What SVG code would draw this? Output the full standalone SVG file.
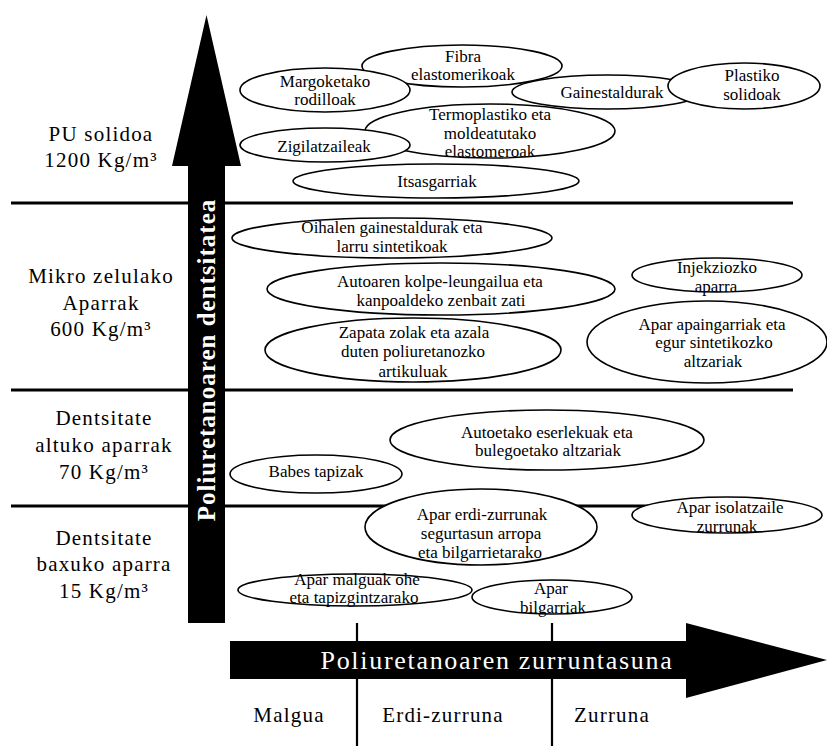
<svg xmlns="http://www.w3.org/2000/svg" width="827" height="749" viewBox="0 0 827 749">
<style>
  text { font-family: "Liberation Serif", "Times New Roman", serif; fill: #000; text-anchor: middle; }
  .node ellipse { fill: #fff; stroke: #000; stroke-width: 1.6; }
  .node text { font-size: 17px; }
  .band text, .axlab text { font-size: 21px; letter-spacing: 1.2px; }
  .rule { stroke: #000; stroke-width: 3; }
  .div { stroke: #000; stroke-width: 2.2; }
  .arrow { fill: #000; }
  .wt { fill: #fff; }
</style>
<rect width="827" height="749" fill="#fff"/>
<g id="axes">
  <line class="rule" x1="11" y1="203" x2="793" y2="203"/>
  <line class="rule" x1="11" y1="390" x2="793" y2="390"/>
  <line class="rule" x1="11" y1="506" x2="793" y2="506"/>
  <line class="div" x1="357" y1="623" x2="357" y2="746"/>
  <line class="div" x1="552" y1="623" x2="552" y2="746"/>
  <polygon class="arrow" points="188,623 188,166 172,166 206.5,15 241,166 225,166 225,623"/>
  <polygon class="arrow" points="230,641 686,641 686,623 827,660 686,698 686,679 230,679"/>
  <text class="wt" transform="translate(215,360) rotate(-90)" font-size="25" font-weight="bold" letter-spacing="1">Poliuretanoaren dentsitatea</text>
  <text class="wt" x="497" y="669" font-size="26" letter-spacing="1.7">Poliuretanoaren zurruntasuna</text>
</g>
<g class="band" id="density-labels">
  <text x="101" y="141">PU solidoa</text>
  <text x="101" y="167">1200 Kg/m³</text>
  <text x="101" y="283">Mikro zelulako</text>
  <text x="101" y="310">Aparrak</text>
  <text x="101" y="336">600 Kg/m³</text>
  <text x="104" y="425">Dentsitate</text>
  <text x="104" y="452">altuko aparrak</text>
  <text x="104" y="479">70 Kg/m³</text>
  <text x="104" y="545">Dentsitate</text>
  <text x="104" y="571">baxuko aparra</text>
  <text x="104" y="598">15 Kg/m³</text>
</g>
<g class="axlab" id="rigidity-labels">
  <text x="289" y="722">Malgua</text>
  <text x="443" y="722">Erdi-zurruna</text>
  <text x="612" y="722">Zurruna</text>
</g>
<g class="node" id="n-fibra">
  <ellipse cx="462" cy="66" rx="100" ry="21"/>
  <text x="463" y="62">Fibra</text>
  <text x="463" y="80">elastomerikoak</text>
</g>
<g class="node" id="n-margoketako">
  <ellipse cx="325" cy="90" rx="85" ry="22"/>
  <text x="325" y="87">Margoketako</text>
  <text x="325" y="105">rodilloak</text>
</g>
<g class="node" id="n-gainestaldurak">
  <ellipse cx="607" cy="92" rx="95" ry="17"/>
  <text x="612" y="98">Gainestaldurak</text>
</g>
<g class="node" id="n-plastiko">
  <ellipse cx="744" cy="86" rx="76" ry="23"/>
  <text x="752" y="81">Plastiko</text>
  <text x="752" y="100">solidoak</text>
</g>
<g class="node" id="n-termoplastiko">
  <ellipse cx="490" cy="131" rx="125" ry="27"/>
  <text x="490" y="120">Termoplastiko eta</text>
  <text x="490" y="139">moldeatutako</text>
  <text x="490" y="157">elastomeroak</text>
</g>
<g class="node" id="n-zigilatzaileak">
  <ellipse cx="325" cy="145" rx="85" ry="17"/>
  <text x="324" y="152">Zigilatzaileak</text>
</g>
<g class="node" id="n-itsasgarriak">
  <ellipse cx="436" cy="181" rx="143" ry="17"/>
  <text x="437" y="187">Itsasgarriak</text>
</g>
<g class="node" id="n-oihalen">
  <ellipse cx="392" cy="238" rx="160" ry="20"/>
  <text x="392" y="233">Oihalen gainestaldurak eta</text>
  <text x="392" y="252">larru sintetikoak</text>
</g>
<g class="node" id="n-autoaren">
  <ellipse cx="441" cy="289" rx="174" ry="26"/>
  <text x="440" y="287">Autoaren kolpe-leungailua eta</text>
  <text x="441" y="306">kanpoaldeko zenbait zati</text>
</g>
<g class="node" id="n-zapata">
  <ellipse cx="413" cy="350" rx="148" ry="32"/>
  <text x="414" y="338">Zapata zolak eta azala</text>
  <text x="413" y="357">duten poliuretanozko</text>
  <text x="413" y="377">artikuluak</text>
</g>
<g class="node" id="n-injekziozko">
  <ellipse cx="717" cy="275" rx="85" ry="17"/>
  <text x="717" y="273">Injekziozko</text>
  <text x="716" y="292">aparra</text>
</g>
<g class="node" id="n-apaingarriak">
  <ellipse cx="707" cy="342" rx="120" ry="41"/>
  <text x="712" y="330">Apar apaingarriak eta</text>
  <text x="714" y="348">egur sintetikozko</text>
  <text x="713" y="367">altzariak</text>
</g>
<g class="node" id="n-autoetako">
  <ellipse cx="547" cy="440" rx="157" ry="30"/>
  <text x="547" y="438">Autoetako eserlekuak eta</text>
  <text x="548" y="456">bulegoetako altzariak</text>
</g>
<g class="node" id="n-babes">
  <ellipse cx="316" cy="474" rx="86" ry="19"/>
  <text x="316" y="477">Babes tapizak</text>
</g>
<g class="node" id="n-erdi-zurrunak">
  <ellipse cx="481" cy="527" rx="116" ry="38"/>
  <text x="482" y="520">Apar erdi-zurrunak</text>
  <text x="481" y="539">segurtasun arropa</text>
  <text x="480" y="558">eta bilgarrietarako</text>
</g>
<g class="node" id="n-isolatzaile">
  <ellipse cx="727" cy="515" rx="95" ry="18"/>
  <text x="730" y="513">Apar isolatzaile</text>
  <text x="727" y="532">zurrunak</text>
</g>
<g class="node" id="n-malguak">
  <ellipse cx="355" cy="590" rx="117" ry="16"/>
  <text x="357" y="585">Apar malguak ohe</text>
  <text x="354" y="603">eta tapizgintzarako</text>
</g>
<g class="node" id="n-bilgarriak">
  <ellipse cx="552" cy="597" rx="80" ry="17"/>
  <text x="551" y="594">Apar</text>
  <text x="553" y="613">bilgarriak</text>
</g>
</svg>
